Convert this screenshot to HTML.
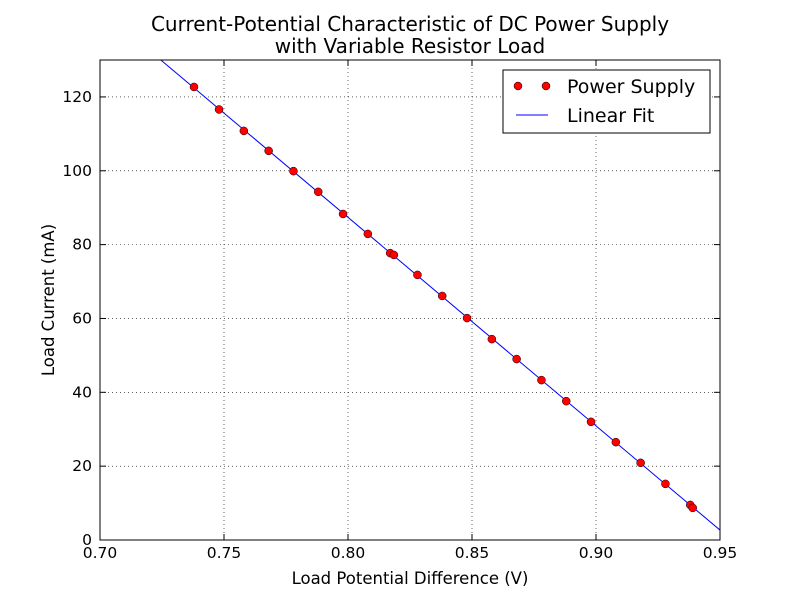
<!DOCTYPE html>
<html><head><meta charset="utf-8"><style>body{margin:0;background:#fff}svg{display:block;font-family:"DejaVu Sans","Liberation Sans",sans-serif}</style></head>
<body>
<svg id="chart" width="800" height="600" xmlns="http://www.w3.org/2000/svg">
<rect width="800" height="600" fill="#fff"/>
<text x="410" y="31" text-anchor="middle" font-size="20">Current-Potential Characteristic of DC Power Supply</text>
<text x="410" y="53" text-anchor="middle" font-size="20">with Variable Resistor Load</text>
<g id="grid"></g><g id="ticks"></g><g id="marks"></g>
<rect x="100" y="60" width="620" height="480" fill="none" stroke="#000" stroke-width="1"/>
<text x="410" y="584" text-anchor="middle" font-size="16.5">Load Potential Difference (V)</text>
<text transform="translate(54,300) rotate(-90)" text-anchor="middle" font-size="16.5">Load Current (mA)</text>
<g>
<rect x="503" y="70" width="207" height="63" fill="#fff" stroke="#000"/>
<circle cx="518" cy="86" r="4" fill="red" stroke="#000" stroke-width="0.5"/>
<circle cx="546" cy="86" r="4" fill="red" stroke="#000" stroke-width="0.5"/>
<text x="567" y="93" font-size="19">Power Supply</text>
<line x1="516" y1="115" x2="548" y2="115" stroke="blue"/>
<text x="567" y="122" font-size="19">Linear Fit</text>
</g>
</svg>
<script>
const voltages=[0.7379,0.748,0.758,0.768,0.778,0.788,0.798,0.808,0.817,0.8185,0.828,0.838,0.848,0.858,0.868,0.878,0.888,0.898,0.908,0.918,0.928,0.938,0.939];
const currents=[122.7,116.6,110.8,105.4,99.9,94.3,88.3,82.9,77.7,77.2,71.8,66.1,60.1,54.4,49.0,43.3,37.6,32.0,26.5,20.9,15.2,9.5,8.7];
const xTicks=[0.70,0.75,0.80,0.85,0.90,0.95];
const yTicks=[0,20,40,60,80,100,120];
const NS="http://www.w3.org/2000/svg";
const X=v=>100+(v-0.70)/0.25*620, Y=v=>540-v/130*480;
function mk(t,a,p){const e=document.createElementNS(NS,t);for(const k in a)e.setAttribute(k,a[k]);p.appendChild(e);return e;}
const g=document.getElementById('grid'),tk=document.getElementById('ticks'),m=document.getElementById('marks');
xTicks.forEach(v=>{const x=X(v);
 const l=mk('line',{x1:x,y1:60,x2:x,y2:540,stroke:'#000','stroke-dasharray':'1,3','stroke-width':0.6},g);
 
 mk('line',{x1:x,y1:540,x2:x,y2:534,stroke:'#000'},tk);mk('line',{x1:x,y1:60,x2:x,y2:66,stroke:'#000'},tk);
 const t=mk('text',{x:x,y:558,'text-anchor':'middle','font-size':15.5},tk);t.textContent=v.toFixed(2);
 });
yTicks.forEach(v=>{const y=Y(v);
 const l=mk('line',{x1:100,y1:y,x2:720,y2:y,stroke:'#000','stroke-dasharray':'1,3','stroke-width':0.6},g);
 
 mk('line',{x1:100,y1:y,x2:106,y2:y,stroke:'#000'},tk);mk('line',{x1:720,y1:y,x2:714,y2:y,stroke:'#000'},tk);
 const t=mk('text',{x:92,y:y+5,'text-anchor':'end','font-size':15.5},tk);t.textContent=v;
 });
const n=voltages.length;let sx=0,sy=0,sxx=0,sxy=0;
for(let i=0;i<n;i++){sx+=voltages[i];sy+=currents[i];sxx+=voltages[i]**2;sxy+=voltages[i]*currents[i];}
const slope=(n*sxy-sx*sy)/(n*sxx-sx*sx),icpt=(sy-slope*sx)/n;
const x0=Math.max(0.70,(130-icpt)/slope),x1=0.95;
const cp=mk('clipPath',{id:'clip'},document.getElementById('chart'));mk('rect',{x:100,y:60,width:620,height:480},cp);
const fl=mk('line',{x1:X(x0),y1:Y(slope*x0+icpt),x2:X(x1),y2:Y(slope*x1+icpt),stroke:'blue','stroke-width':1,'clip-path':'url(#clip)'},m);

voltages.forEach((v,i)=>{const c=mk('circle',{cx:X(v),cy:Y(currents[i]),r:4,fill:'red',stroke:'#000','stroke-width':0.5},m);
 });
</script>
</body></html>
